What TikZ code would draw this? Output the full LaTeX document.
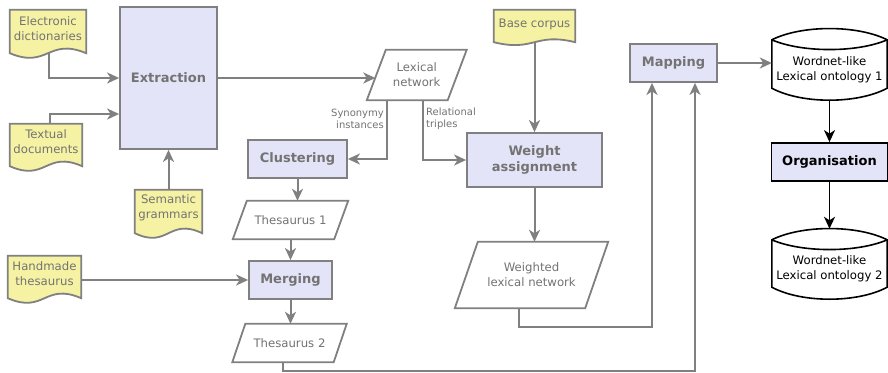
\documentclass[tikz,border=0pt]{standalone}
\usepackage{fontspec}
\setmainfont{DejaVu Sans}
\usetikzlibrary{arrows.meta,calc,backgrounds}

\definecolor{linegray}{RGB}{128,128,128}
\definecolor{txtgray}{RGB}{115,115,115}
\definecolor{docyellow}{RGB}{246,242,164}
\definecolor{proclav}{RGB}{228,228,248}

\tikzset{
  tip/.style={-{Stealth[length=12pt,width=11pt,inset=3.5pt]}},
  conn/.style={draw=linegray, line width=2pt, tip},
  blackconn/.style={draw=black, line width=1.8pt, tip},
  proc/.style={rectangle, draw=linegray, line width=1.8pt, fill=proclav,
    text=txtgray, font=\fontsize{13}{16.5}\selectfont\bfseries,
    align=center, inner sep=0pt},
  doctext/.style={rectangle, inner sep=0pt, text=txtgray,
    font=\fontsize{11.7}{15}\selectfont, align=center},
  datatext/.style={rectangle, inner sep=0pt, text=txtgray,
    font=\fontsize{11.7}{15}\selectfont, align=center},
  storetext/.style={rectangle, inner sep=0pt, text=black,
    font=\fontsize{11.7}{15}\selectfont, align=center,
    minimum width=115pt},
  lbl/.style={inner sep=0pt, text=txtgray, font=\fontsize{10}{12}\selectfont},
  docline/.style={draw=linegray, line width=1.8pt, fill=docyellow},
  paraline/.style={draw=linegray, line width=1.8pt, fill=white},
  storeline/.style={draw=black, line width=1.6pt, fill=white}
}

% document symbol: rectangle with a wavy lower edge
% #1 node, #2 side extension below the node, #3 wave control offset
\newcommand\docoutline[3]{%
  \path[docline] (#1.north west) -- (#1.north east)
    -- ($(#1.south east)+(0,#2)$)
    .. controls ($(#1.south)+(0,#2-#3)$) and ($(#1.south)+(0,#2+#3)$)
    .. ($(#1.south west)+(0,#2)$) -- cycle;}

% data symbol: parallelogram leaning right, #2 is the horizontal slant
\newcommand\paraoutline[2]{%
  \path[paraline] ($(#1.north west)+(#2/2,0)$) -- ($(#1.north east)+(#2/2,0)$)
    -- ($(#1.south east)-(#2/2,0)$) -- ($(#1.south west)-(#2/2,0)$) -- cycle;}

% stored data symbol: lens-shaped top, curved bottom
\newcommand\storeoutline[1]{%
  \path[storeline] ($(#1.north west)+(0,-11)$)
    .. controls +(30,-15) and +(-30,-15) .. ($(#1.north east)+(0,-11)$)
    -- (#1.south east)
    .. controls +(-30,16) and +(30,16) .. (#1.south west) -- cycle;
  \draw[black, line width=1.6pt] ($(#1.north west)+(0,-11)$)
    .. controls +(30,13) and +(-30,13) .. ($(#1.north east)+(0,-11)$);}

\begin{document}
\begin{tikzpicture}[x=1pt,y=-1pt]
\useasboundingbox (0,0) rectangle (888,372);
\begin{scope}[on background layer]
  \fill[white] (0,0) rectangle (888,372);
\end{scope}

% sources
\node[doctext, minimum width=76pt, minimum height=37pt] (ed) at (48,28.5) {Electronic\\dictionaries};
\node[doctext, minimum width=72pt, minimum height=35pt] (td) at (46,141.5) {Textual\\documents};
\node[doctext, minimum width=67pt, minimum height=35pt] (sg) at (168.5,207.5) {Semantic\\grammars};
\node[doctext, minimum width=73pt, minimum height=35pt] (ht) at (44.5,273.5) {Handmade\\thesaurus};
\node[doctext, minimum width=81pt, minimum height=28pt] (bc) at (534.5,24) {Base corpus};

% processes
\node[proc, minimum width=97pt, minimum height=142pt] (ext) at (168.5,78) {Extraction};
\node[proc, minimum width=99pt, minimum height=38pt] (clu) at (297.5,159) {Clustering};
\node[proc, minimum width=83pt, minimum height=38pt] (mer) at (290.5,280) {Merging};
\node[proc, minimum width=135pt, minimum height=54pt] (wa) at (534.5,160) {Weight\\assignment};
\node[proc, minimum width=87pt, minimum height=38pt] (map) at (673.5,63) {Mapping};
\node[proc, draw=black, text=black, minimum width=116pt, minimum height=38pt] (org) at (829.5,162) {Organisation};

% data
\node[datatext, minimum width=80.5pt, minimum height=50pt] (lex) at (416.75,75) {Lexical\\network};
\node[datatext, minimum width=101pt, minimum height=38pt] (th1) at (290.5,220) {Thesaurus 1};
\node[datatext, minimum width=101pt, minimum height=38pt] (th2) at (289.5,343) {Thesaurus 2};
\node[datatext, minimum width=130pt, minimum height=66pt] (wln) at (531.5,275) {Weighted\\lexical network};

% ontologies
\node[storetext, minimum height=37pt] (ont1) at (829.5,69.5) {Wordnet-like\\Lexical ontology 1};
\node[storetext, minimum height=36pt] (ont2) at (829.5,269) {Wordnet-like\\Lexical ontology 2};

\begin{scope}[on background layer]
  \docoutline{ed}{6}{16}
  \docoutline{td}{7}{16}
  \docoutline{sg}{8}{16}
  \docoutline{ht}{7}{16}
  \docoutline{bc}{4}{10}
  \paraoutline{lex}{19}
  \paraoutline{th1}{14}
  \paraoutline{th2}{13}
  \paraoutline{wln}{23}
  \storeoutline{ont1}
  \storeoutline{ont2}
\end{scope}

% edge labels
\node[lbl, anchor=east, align=right] (synlbl) at (384,118.5) {Synonymy\\instances};
\node[lbl, anchor=west, align=left] (rellbl) at (426,118.5) {Relational\\triples};

% connectors
\draw[conn] ($(ed.south)+(1,6)$) |- (ext.west);
\draw[conn] ($(td.north)+(4,0)$) |- ($(ext.west)+(0,36)$);
\draw[conn] (sg.north) -- (ext.south);
\draw[conn] (ext.east) -- ($(ext.east -| lex.west)+(-1,0)$);
\draw[conn] ($(lex.south)+(-30,0)$) |- (clu.east);
\draw[conn] ($(lex.south)+(6,0)$) |- (wa.west);
\draw[conn] (clu.south) -- (clu.south |- th1.north);
\draw[conn] (th1.south) -- (mer.north);
\draw[conn] (ht.east |- mer.west) -- (mer.west);
\draw[conn] (mer.south) -- (mer.south |- th2.north);
\draw[conn] ($(bc.south)+(0,4)$) -- (wa.north);
\draw[conn] (wa.south) -- (wa.south |- wln.north);
\draw[conn] ($(wln.south)+(-12.5,0)$) -- ++(0,19) -| ($(map.south)+(-21.5,0)$);
\draw[conn] ($(th2.south)+(-6.5,0)$) -- ++(0,8.5) -| ($(map.south)+(21.5,0)$);
\draw[conn] (map.east) -- (map.east -| ont1.west);
\draw[blackconn] ($(ont1.south)+(0,12)$) -- (org.north);
\draw[blackconn] (org.south) -- ($(ont2.north)+(0,-22)$);
\end{tikzpicture}
\end{document}
